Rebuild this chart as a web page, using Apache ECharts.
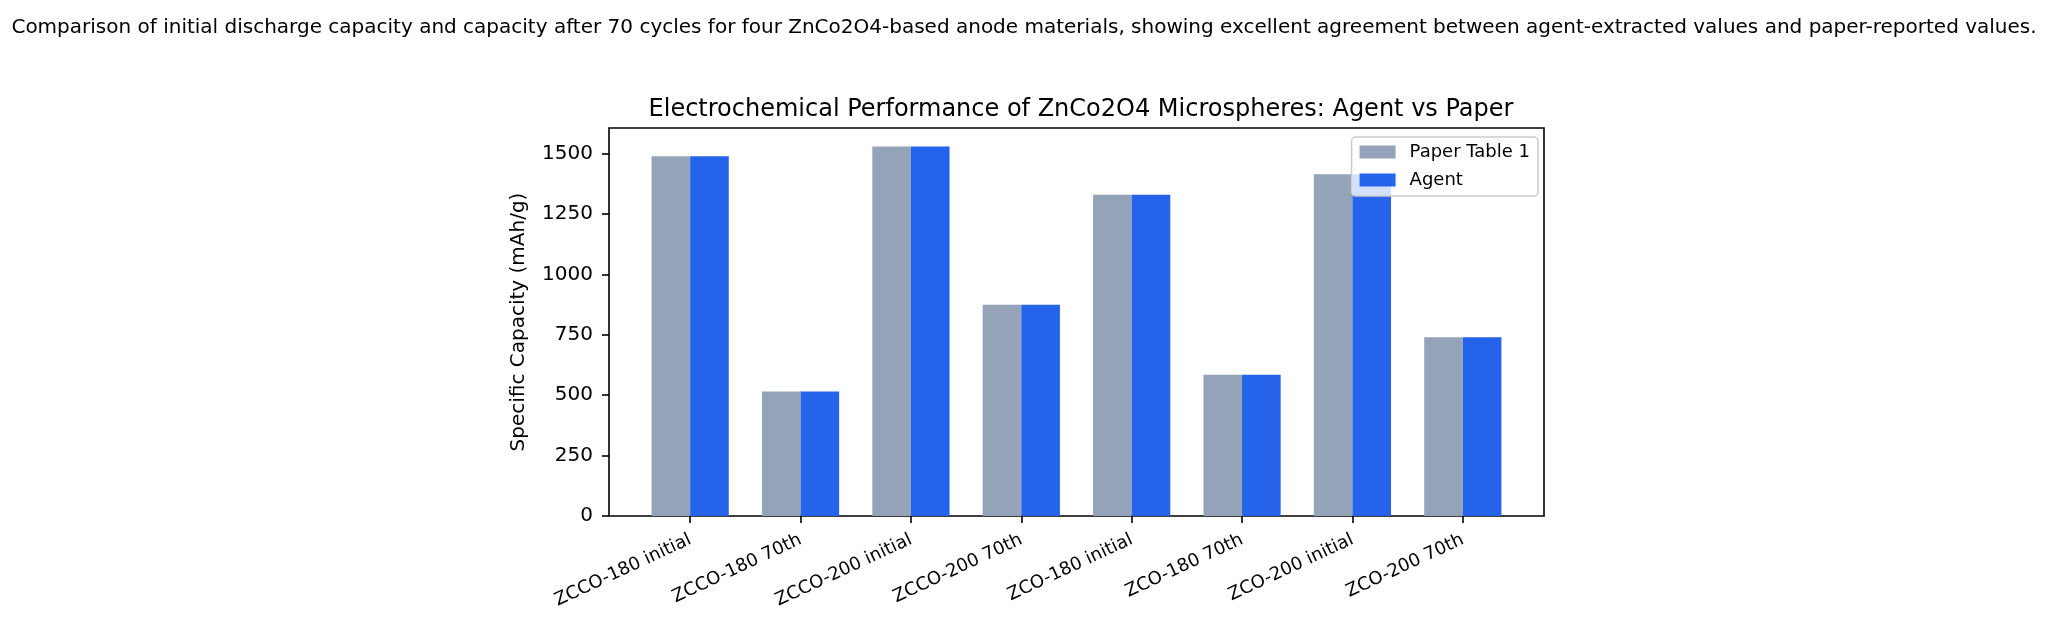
<!DOCTYPE html>
<html>
<head>
<meta charset="utf-8">
<script src="https://cdn.jsdelivr.net/npm/echarts@6/dist/echarts.min.js"></script>
<style>
  html, body { margin: 0; padding: 0; background: #fff; }
  #chart { width: 2048px; height: 627px; }
</style>
</head>
<body>
<div id="chart"></div>
<script>
const categories = [
  'ZCCO-180 initial', 'ZCCO-180 70th', 'ZCCO-200 initial', 'ZCCO-200 70th',
  'ZCO-180 initial', 'ZCO-180 70th', 'ZCO-200 initial', 'ZCO-200 70th'
]
const paperValues = [1490, 515, 1530, 875, 1330, 585, 1415, 740]
const agentValues = [1490, 515, 1530, 875, 1330, 585, 1415, 740]
const yTicks = [0, 250, 500, 750, 1000, 1250, 1500]
const yMax = 1606.5

const font = 'DejaVu Sans'
const chart = echarts.init(document.getElementById('chart'), null, { renderer: 'canvas' })

chart.setOption({
  animation: false,
  backgroundColor: '#fff',
  textStyle: { fontFamily: font, color: '#000' },
  title: [
    {
      text: 'Comparison of initial discharge capacity and capacity after 70 cycles for four ZnCo2O4-based anode materials, showing excellent agreement between agent-extracted values and paper-reported values.',
      left: 'center', top: 13,
      textStyle: { fontFamily: font, fontSize: 20, fontWeight: 'normal', color: '#000', lineHeight: 20 }
    },
    {
      text: 'Electrochemical Performance of ZnCo2O4 Microspheres: Agent vs Paper',
      left: 1076, textAlign: 'center', top: 93,
      textStyle: { fontFamily: font, fontSize: 24, fontWeight: 'normal', color: '#000', lineHeight: 24 }
    }
  ],
  legend: {
    orient: 'vertical',
    right: 510, top: 137,
    data: ['Paper Table 1', 'Agent'],
    icon: 'rect',
    itemWidth: 36, itemHeight: 13, itemGap: 10,
    padding: [6, 8, 7, 8],
    backgroundColor: 'rgba(255,255,255,0.8)',
    borderColor: '#cccccc', borderWidth: 1.5, borderRadius: 4,
    textStyle: { fontFamily: font, fontSize: 18, color: '#000', padding: [0, 0, 0, 9] }
  },
  grid: [
    // frame grid: spans the full plot area with matplotlib-style margins
    { left: 609, right: 504, top: 128, bottom: 111, show: true, borderColor: '#000', borderWidth: 1.6, backgroundColor: 'transparent' },
    // inner grid: one band per category
    { left: 635, right: 530, top: 128, bottom: 111 }
  ],
  xAxis: [
    { gridIndex: 0, type: 'value', show: false, min: 0, max: 1 },
    {
      gridIndex: 1, type: 'category', data: categories,
      axisLine: { show: false },
      axisTick: { show: true, alignWithLabel: true, length: 7, lineStyle: { color: '#000', width: 1.6 } },
      axisLabel: { rotate: 25, interval: 0, margin: 23, fontFamily: font, fontSize: 18, color: '#000' }
    }
  ],
  yAxis: [
    {
      gridIndex: 0, type: 'value', min: 0, max: yMax,
      name: 'Specific Capacity (mAh/g)', nameLocation: 'middle', nameGap: 80,
      nameTextStyle: { fontFamily: font, fontSize: 20, color: '#000' },
      axisLine: { show: false },
      splitLine: { show: false },
      axisTick: { show: true, length: 7, customValues: yTicks, lineStyle: { color: '#000', width: 1.6 } },
      axisLabel: { customValues: yTicks, margin: 16, fontFamily: font, fontSize: 20, color: '#000', formatter: v => String(v) }
    },
    { gridIndex: 1, type: 'value', min: 0, max: yMax, show: false, splitLine: { show: false } }
  ],
  series: [
    {
      name: 'Paper Table 1', type: 'bar', xAxisIndex: 1, yAxisIndex: 1,
      data: paperValues, barWidth: 38.6, barGap: '0%',
      itemStyle: { color: '#94a3b8' }
    },
    {
      name: 'Agent', type: 'bar', xAxisIndex: 1, yAxisIndex: 1,
      data: agentValues, barWidth: 38.6, barGap: '0%',
      itemStyle: { color: '#2563eb' }
    }
  ]
})

window.addEventListener('resize', () => chart.resize())
</script>
</body>
</html>
